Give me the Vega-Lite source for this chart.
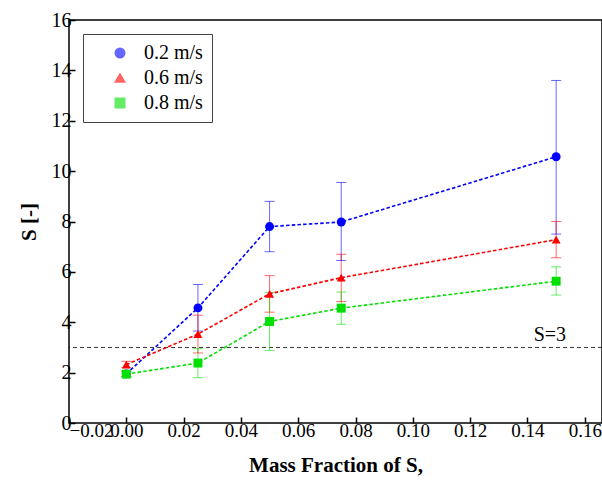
{
  "$schema": "https://vega.github.io/schema/vega-lite/v6.json",
  "width": 533,
  "height": 403,
  "autosize": "none",
  "padding": {"left": 69, "top": 20, "right": 0, "bottom": 72},
  "background": "white",
  "config": {
    "font": "Liberation Serif",
    "view": {"stroke": "black", "strokeWidth": 1.5}
  },
  "datasets": {
    "pts": [
      {"speed": "0.2 m/s", "x": 0, "y": 1.95, "ylo": 1.85, "yhi": 2.05},
      {"speed": "0.2 m/s", "x": 0.025, "y": 4.57, "ylo": 3.65, "yhi": 5.5},
      {"speed": "0.2 m/s", "x": 0.05, "y": 7.8, "ylo": 6.8, "yhi": 8.8},
      {"speed": "0.2 m/s", "x": 0.075, "y": 7.98, "ylo": 6.45, "yhi": 9.55},
      {"speed": "0.2 m/s", "x": 0.15, "y": 10.57, "ylo": 7.5, "yhi": 13.6},
      {"speed": "0.6 m/s", "x": 0, "y": 2.32, "ylo": 2.2, "yhi": 2.45},
      {"speed": "0.6 m/s", "x": 0.025, "y": 3.53, "ylo": 2.78, "yhi": 4.28},
      {"speed": "0.6 m/s", "x": 0.05, "y": 5.13, "ylo": 4.4, "yhi": 5.85},
      {"speed": "0.6 m/s", "x": 0.075, "y": 5.77, "ylo": 4.82, "yhi": 6.7},
      {"speed": "0.6 m/s", "x": 0.15, "y": 7.28, "ylo": 6.56, "yhi": 8.0},
      {"speed": "0.8 m/s", "x": 0, "y": 1.94, "ylo": 1.85, "yhi": 2.05},
      {"speed": "0.8 m/s", "x": 0.025, "y": 2.38, "ylo": 1.8, "yhi": 2.95},
      {"speed": "0.8 m/s", "x": 0.05, "y": 4.03, "ylo": 2.88, "yhi": 5.18},
      {"speed": "0.8 m/s", "x": 0.075, "y": 4.56, "ylo": 3.92, "yhi": 5.2},
      {"speed": "0.8 m/s", "x": 0.15, "y": 5.63, "ylo": 5.08, "yhi": 6.2}
    ],
    "ref": [{"y": 3, "x": 0.1478, "ty": 3.49, "label": "S=3"}]
  },
  "layer": [
    {
      "data": {"name": "ref"},
      "mark": {"type": "rule", "color": "black", "strokeDash": [4, 3], "strokeWidth": 0.8},
      "encoding": {"y": {"field": "y", "type": "quantitative", "title": "S [-]"}}
    },
    {
      "data": {"name": "ref"},
      "mark": {"type": "text", "font": "Liberation Serif", "fontSize": 20, "color": "black"},
      "encoding": {
        "x": {"field": "x", "type": "quantitative", "title": "Mass Fraction of S,"},
        "y": {"field": "ty", "type": "quantitative", "title": "S [-]"},
        "text": {"field": "label"}
      }
    },
    {
      "data": {"name": "pts"},
      "mark": {"type": "rule", "strokeWidth": 1, "opacity": 0.6},
      "encoding": {
        "x": {"field": "x", "type": "quantitative", "title": "Mass Fraction of S,"},
        "y": {"field": "ylo", "type": "quantitative", "title": "S [-]"},
        "y2": {"field": "yhi"},
        "color": {"field": "speed", "type": "nominal", "title": null}
      }
    },
    {
      "data": {"name": "pts"},
      "mark": {"type": "tick", "orient": "horizontal", "size": 10, "thickness": 1, "opacity": 0.6},
      "encoding": {
        "x": {"field": "x", "type": "quantitative", "title": "Mass Fraction of S,"},
        "y": {"field": "yhi", "type": "quantitative", "title": "S [-]"},
        "color": {"field": "speed", "type": "nominal", "title": null}
      }
    },
    {
      "data": {"name": "pts"},
      "mark": {"type": "tick", "orient": "horizontal", "size": 10, "thickness": 1, "opacity": 0.6},
      "encoding": {
        "x": {"field": "x", "type": "quantitative", "title": "Mass Fraction of S,"},
        "y": {"field": "ylo", "type": "quantitative", "title": "S [-]"},
        "color": {"field": "speed", "type": "nominal", "title": null}
      }
    },
    {
      "data": {"name": "pts"},
      "mark": {"type": "line", "strokeDash": [3.5, 2.2], "strokeWidth": 1.6},
      "encoding": {
        "x": {"field": "x", "type": "quantitative", "title": "Mass Fraction of S,"},
        "y": {"field": "y", "type": "quantitative", "title": "S [-]"},
        "color": {"field": "speed", "type": "nominal", "title": null}
      }
    },
    {
      "data": {"name": "pts"},
      "mark": {"type": "point", "filled": true, "opacity": 1},
      "encoding": {
        "x": {
          "field": "x", "type": "quantitative",
          "scale": {"domain": [-0.02, 0.166], "nice": false, "zero": false},
          "title": "Mass Fraction of S,",
          "axis": {
            "grid": false, "domain": false,
            "values": [-0.02, 0, 0.02, 0.04, 0.06, 0.08, 0.1, 0.12, 0.14, 0.16],
            "format": ".2f",
            "labelOverlap": false,
            "tickSize": -6, "tickColor": "black", "tickWidth": 1.5,
            "labelFont": "Liberation Serif", "labelFontSize": 19, "labelColor": "black",
            "titleFont": "Liberation Serif", "titleFontSize": 21, "titleFontWeight": "bold", "titleColor": "black",
            "labelPadding": 4, "titlePadding": 14
          }
        },
        "y": {
          "field": "y", "type": "quantitative",
          "scale": {"domain": [0, 16], "nice": false},
          "title": "S [-]",
          "axis": {
            "grid": false, "domain": false,
            "values": [0, 2, 4, 6, 8, 10, 12, 14, 16],
            "format": "d",
            "tickSize": -6, "tickColor": "black", "tickWidth": 1.5,
            "labelFont": "Liberation Serif", "labelFontSize": 20, "labelColor": "black",
            "titleFont": "Liberation Serif", "titleFontSize": 21, "titleFontWeight": "bold", "titleColor": "black",
            "labelPadding": 4, "titlePadding": 12
          }
        },
        "color": {
          "field": "speed", "type": "nominal", "title": null,
          "scale": {"domain": ["0.2 m/s", "0.6 m/s", "0.8 m/s"], "range": ["#0000ff", "#ff0000", "#00e000"]},
          "legend": {
            "title": null,
            "orient": "top-left",
            "offset": 14,
            "padding": 9,
            "rowPadding": 5,
            "fillColor": "white",
            "strokeColor": "#444444",
            "cornerRadius": 0,
            "symbolSize": 90,
            "symbolOffset": 18,
            "symbolOpacity": 1,
            "labelOffset": 14,
            "labelFont": "Liberation Serif",
            "labelFontSize": 20,
            "labelColor": "black"
          }
        },
        "shape": {
          "field": "speed", "type": "nominal", "title": null,
          "scale": {"domain": ["0.2 m/s", "0.6 m/s", "0.8 m/s"], "range": ["circle", "triangle-up", "square"]},
          "legend": {
            "title": null,
            "orient": "top-left",
            "offset": 14,
            "padding": 9,
            "rowPadding": 5,
            "fillColor": "white",
            "strokeColor": "#444444",
            "cornerRadius": 0,
            "symbolSize": 90,
            "symbolOffset": 18,
            "symbolOpacity": 1,
            "labelOffset": 14,
            "labelFont": "Liberation Serif",
            "labelFontSize": 20,
            "labelColor": "black"
          }
        },
        "size": {"value": 80}
      }
    }
  ]
}
